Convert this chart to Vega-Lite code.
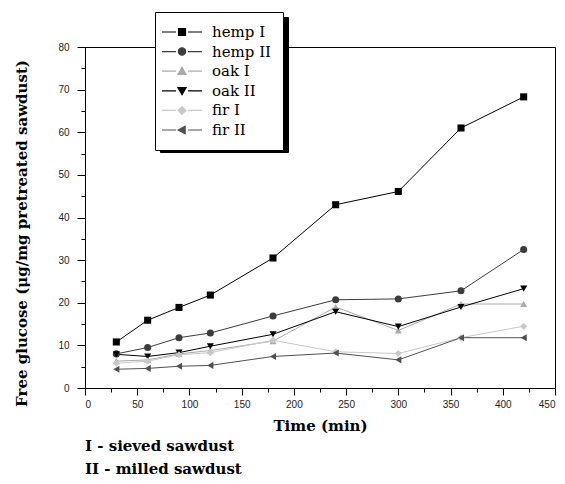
{
  "$schema": "https://vega.github.io/schema/vega-lite/v6.json",
  "width": 470,
  "height": 341,
  "autosize": {"type": "none"},
  "padding": {"left": 85, "top": 47, "right": 10, "bottom": 96},
  "background": "white",
  "data": {"values": [
    {"series": "hemp I", "time": 30, "glucose": 10.8},
    {"series": "hemp I", "time": 60, "glucose": 15.9},
    {"series": "hemp I", "time": 90, "glucose": 18.9},
    {"series": "hemp I", "time": 120, "glucose": 21.8},
    {"series": "hemp I", "time": 180, "glucose": 30.5},
    {"series": "hemp I", "time": 240, "glucose": 43.0},
    {"series": "hemp I", "time": 300, "glucose": 46.1},
    {"series": "hemp I", "time": 360, "glucose": 61.0},
    {"series": "hemp I", "time": 420, "glucose": 68.3},
    {"series": "hemp II", "time": 30, "glucose": 8.0},
    {"series": "hemp II", "time": 60, "glucose": 9.5},
    {"series": "hemp II", "time": 90, "glucose": 11.8},
    {"series": "hemp II", "time": 120, "glucose": 12.9},
    {"series": "hemp II", "time": 180, "glucose": 16.9},
    {"series": "hemp II", "time": 240, "glucose": 20.7},
    {"series": "hemp II", "time": 300, "glucose": 20.9},
    {"series": "hemp II", "time": 360, "glucose": 22.8},
    {"series": "hemp II", "time": 420, "glucose": 32.5},
    {"series": "oak I", "time": 30, "glucose": 6.3},
    {"series": "oak I", "time": 60, "glucose": 6.6},
    {"series": "oak I", "time": 90, "glucose": 8.0},
    {"series": "oak I", "time": 120, "glucose": 8.8},
    {"series": "oak I", "time": 180, "glucose": 11.0},
    {"series": "oak I", "time": 240, "glucose": 19.0},
    {"series": "oak I", "time": 300, "glucose": 13.5},
    {"series": "oak I", "time": 360, "glucose": 19.7},
    {"series": "oak I", "time": 420, "glucose": 19.7},
    {"series": "oak II", "time": 30, "glucose": 7.9},
    {"series": "oak II", "time": 60, "glucose": 7.4},
    {"series": "oak II", "time": 90, "glucose": 8.3},
    {"series": "oak II", "time": 120, "glucose": 9.8},
    {"series": "oak II", "time": 180, "glucose": 12.6},
    {"series": "oak II", "time": 240, "glucose": 17.9},
    {"series": "oak II", "time": 300, "glucose": 14.4},
    {"series": "oak II", "time": 360, "glucose": 19.0},
    {"series": "oak II", "time": 420, "glucose": 23.3},
    {"series": "fir I", "time": 30, "glucose": 5.8},
    {"series": "fir I", "time": 60, "glucose": 6.3},
    {"series": "fir I", "time": 90, "glucose": 7.8},
    {"series": "fir I", "time": 120, "glucose": 8.3},
    {"series": "fir I", "time": 180, "glucose": 11.2},
    {"series": "fir I", "time": 240, "glucose": 8.5},
    {"series": "fir I", "time": 300, "glucose": 8.1},
    {"series": "fir I", "time": 360, "glucose": 11.8},
    {"series": "fir I", "time": 420, "glucose": 14.5},
    {"series": "fir II", "time": 30, "glucose": 4.4},
    {"series": "fir II", "time": 60, "glucose": 4.6},
    {"series": "fir II", "time": 90, "glucose": 5.1},
    {"series": "fir II", "time": 120, "glucose": 5.3},
    {"series": "fir II", "time": 180, "glucose": 7.4},
    {"series": "fir II", "time": 240, "glucose": 8.2},
    {"series": "fir II", "time": 300, "glucose": 6.6},
    {"series": "fir II", "time": 360, "glucose": 11.8},
    {"series": "fir II", "time": 420, "glucose": 11.8}
  ]},
  "title": {
    "text": "I - sieved sawdust",
    "subtitle": "II - milled sawdust",
    "orient": "bottom",
    "anchor": "start",
    "frame": "group",
    "offset": 6,
    "font": "DejaVu Serif",
    "fontSize": 15,
    "fontWeight": "bold",
    "color": "black",
    "subtitleFont": "DejaVu Serif",
    "subtitleFontSize": 15,
    "subtitleFontWeight": "bold",
    "subtitleColor": "black",
    "subtitlePadding": 8
  },
  "encoding": {
    "x": {
      "field": "time", "type": "quantitative",
      "scale": {"domain": [0, 450], "nice": false},
      "title": "Time (min)",
      "axis": {
        "values": [0, 25, 50, 75, 100, 125, 150, 175, 200, 225, 250, 275, 300, 325, 350, 375, 400, 425, 450],
        "labelExpr": "datum.value % 50 === 0 ? datum.label : ''",
        "tickSize": {"condition": {"test": "datum.value % 50 === 0", "value": 7}, "value": 4},
        "labelPadding": 4,
        "titlePadding": 9,
        "titleFontSize": 15
      }
    },
    "y": {
      "field": "glucose", "type": "quantitative",
      "scale": {"domain": [0, 80], "nice": false},
      "title": "Free glucose (μg/mg pretreated sawdust)",
      "axis": {
        "values": [0, 5, 10, 15, 20, 25, 30, 35, 40, 45, 50, 55, 60, 65, 70, 75, 80],
        "labelExpr": "datum.value % 10 === 0 ? datum.label : ''",
        "tickSize": {"condition": {"test": "datum.value % 10 === 0", "value": 8}, "value": 4},
        "labelPadding": 8,
        "titlePadding": 28,
        "titleFontSize": 15,
        "titleY": 186
      }
    }
  },
  "layer": [
    {
      "mark": {"type": "line"},
      "encoding": {
        "color": {"field": "series", "type": "nominal",
          "scale": {"domain": ["hemp I", "hemp II", "oak I", "oak II", "fir I", "fir II"],
                    "range": ["#000000", "#3c3c3c", "#aaaaaa", "#000000", "#c8c8c8", "#505050"]},
          "legend": null},
        "strokeWidth": {"field": "series", "type": "ordinal",
          "scale": {"domain": ["hemp I", "hemp II", "oak I", "oak II", "fir I", "fir II"],
                    "range": [1, 1, 1.2, 1.6, 1.2, 1.5]},
          "legend": null}
      }
    },
    {
      "mark": {"type": "point", "filled": true, "size": 50, "opacity": 1},
      "encoding": {
        "color": {"field": "series", "type": "nominal", "legend": null},
        "shape": {"field": "series", "type": "nominal",
          "scale": {"domain": ["hemp I", "hemp II", "oak I", "oak II", "fir I", "fir II"],
                    "range": ["square", "circle", "triangle-up", "triangle-down", "diamond", "triangle-left"]},
          "legend": null}
      }
    },
    {
      "mark": {"type": "point", "filled": true, "strokeWidth": 1.2, "opacity": 1},
      "encoding": {
        "shape": {"field": "series", "type": "nominal",
          "scale": {"domain": ["hemp I", "hemp II", "oak I", "oak II", "fir I", "fir II"],
                    "range": [
                      "M-2.86,0H-0.86M0.86,0H2.86M-0.5,-0.5H0.5V0.5H-0.5Z",
                      "M-2.86,0H-0.86M0.86,0H2.86M-0.52,0A0.52,0.52,0,1,0,0.52,0A0.52,0.52,0,1,0,-0.52,0Z",
                      "M-2.86,0H-0.86M0.86,0H2.86M0,-0.55L0.58,0.45L-0.58,0.45Z",
                      "M-2.86,0H-0.86M0.86,0H2.86M0,0.55L0.58,-0.45L-0.58,-0.45Z",
                      "M-2.86,0H-0.86M0.86,0H2.86M0,-0.55L0.55,0L0,0.55L-0.55,0Z",
                      "M-2.86,0H-0.86M0.86,0H2.86M-0.55,0L0.45,-0.55L0.45,0.55Z"
                    ]},
          "legend": {
            "orient": "none", "legendX": 70, "legendY": -35, "title": null,
            "padding": 12, "rowPadding": 3.6,
            "labelFont": "DejaVu Serif", "labelFontSize": 15, "labelColor": "black", "labelOffset": 22,
            "symbolSize": 196, "symbolOffset": 7, "symbolStrokeWidth": 1.2, "symbolOpacity": 1,
            "strokeColor": "black", "fillColor": "white", "zindex": 2
          }
        },
        "fill": {"field": "series", "type": "nominal",
          "scale": {"domain": ["hemp I", "hemp II", "oak I", "oak II", "fir I", "fir II"],
                    "range": ["#000000", "#3c3c3c", "#aaaaaa", "#000000", "#c8c8c8", "#505050"]},
          "legend": {
            "orient": "none", "legendX": 70, "legendY": -35, "title": null,
            "padding": 12, "rowPadding": 3.6,
            "labelFont": "DejaVu Serif", "labelFontSize": 15, "labelColor": "black", "labelOffset": 22,
            "symbolSize": 196, "symbolOffset": 7, "symbolStrokeWidth": 1.2, "symbolOpacity": 1,
            "strokeColor": "black", "fillColor": "white", "zindex": 2
          }
        },
        "stroke": {"field": "series", "type": "nominal",
          "scale": {"domain": ["hemp I", "hemp II", "oak I", "oak II", "fir I", "fir II"],
                    "range": ["#000000", "#3c3c3c", "#aaaaaa", "#000000", "#c8c8c8", "#505050"]},
          "legend": {
            "orient": "none", "legendX": 70, "legendY": -35, "title": null,
            "padding": 12, "rowPadding": 3.6,
            "labelFont": "DejaVu Serif", "labelFontSize": 15, "labelColor": "black", "labelOffset": 22,
            "symbolSize": 196, "symbolOffset": 7, "symbolStrokeWidth": 1.2, "symbolOpacity": 1,
            "strokeColor": "black", "fillColor": "white", "zindex": 2
          }
        },
        "opacity": {"field": "series", "type": "ordinal",
          "scale": {"domain": ["fir II", "fir I", "oak II", "oak I", "hemp II", "hemp I"], "range": [0, 0]},
          "legend": {
            "orient": "none", "legendX": 75, "legendY": -30, "title": null,
            "padding": 12, "rowPadding": 7.6,
            "labelFont": "DejaVu Serif", "labelFontSize": 15, "labelColor": "black", "labelOffset": 81,
            "labelExpr": "''",
            "symbolSize": 196, "symbolOffset": 7, "symbolStrokeWidth": 1.2,
            "symbolType": "M-2.86,-0.5H2.86V0.5H-2.86Z", "symbolOpacity": 0,
            "strokeColor": "black", "fillColor": "black", "zindex": 1
          }
        }
      }
    }
  ],
  "resolve": {"scale": {"shape": "independent", "fill": "independent", "stroke": "independent"}},
  "config": {
    "view": {"stroke": "black", "strokeWidth": 1},
    "axis": {
      "domainColor": "black", "domainWidth": 1,
      "tickColor": "black", "tickWidth": 1,
      "grid": false,
      "labelFont": "Liberation Sans", "labelFontSize": 10, "labelColor": "#222222",
      "titleFont": "DejaVu Serif", "titleFontWeight": "bold", "titleColor": "black"
    }
  }
}
